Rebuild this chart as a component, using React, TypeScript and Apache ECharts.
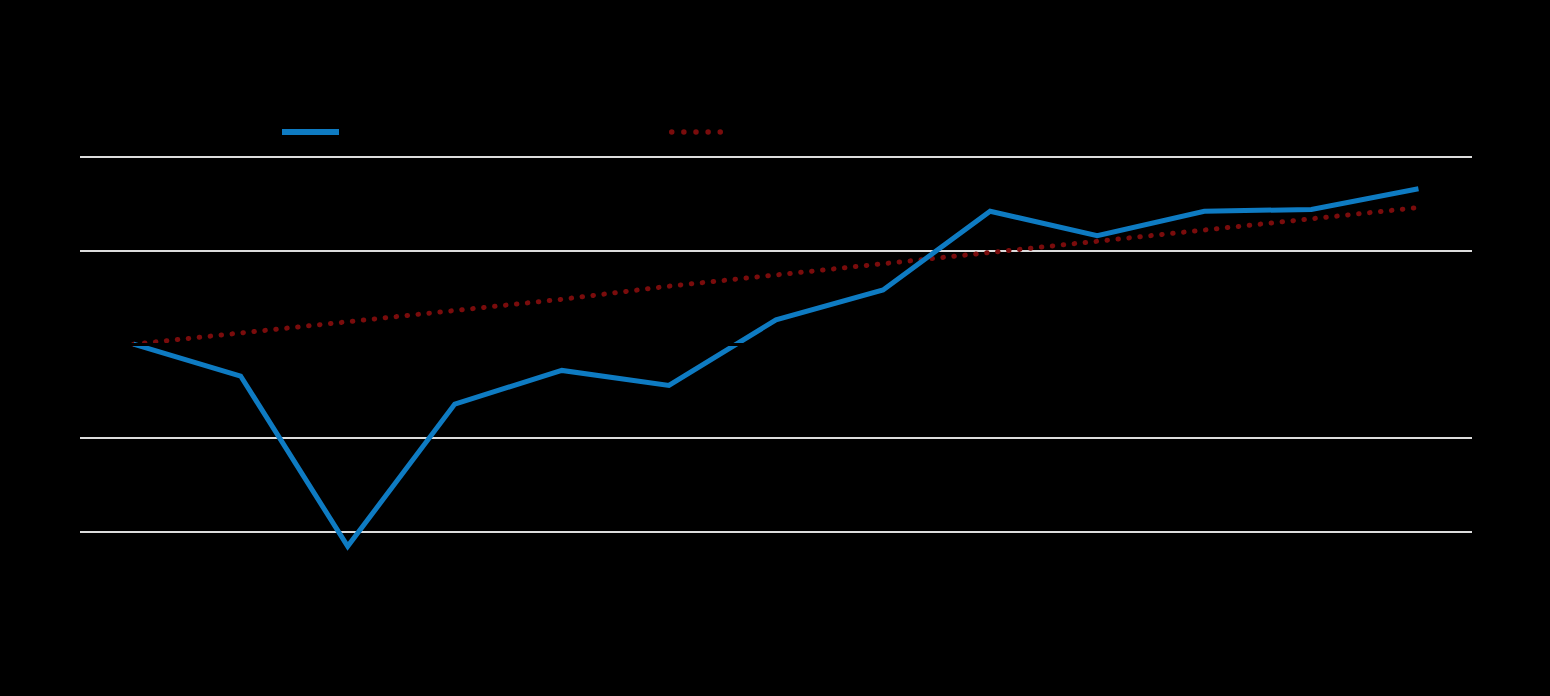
import React, { useEffect, useRef } from "react";
import * as echarts from "echarts";

const years = ["2007", "2008", "2009", "2010", "2011", "2012", "2013", "2014", "2015", "2016", "2017", "2018", "2019"];
const actualValues = [0, -1.7, -10.8, -3.2, -1.4, -2.2, 1.3, 2.9, 7.1, 5.8, 7.1, 7.2, 8.3];
const trendValues = [0, 0.6, 1.2, 1.8, 2.4, 3.1, 3.7, 4.3, 4.9, 5.5, 6.1, 6.7, 7.3];
const seriesNames = ["Actual change since 2007", "Pre-crisis trend"];
const yMin = -15;
const yMax = 10;
const yInterval = 5;

const dotsIcon =
  "path://M0,2.5a2.5,2.5 0 1,0 5,0a2.5,2.5 0 1,0 -5,0Z" +
  "M11,2.5a2.5,2.5 0 1,0 5,0a2.5,2.5 0 1,0 -5,0Z" +
  "M22,2.5a2.5,2.5 0 1,0 5,0a2.5,2.5 0 1,0 -5,0Z" +
  "M33,2.5a2.5,2.5 0 1,0 5,0a2.5,2.5 0 1,0 -5,0Z" +
  "M44,2.5a2.5,2.5 0 1,0 5,0a2.5,2.5 0 1,0 -5,0Z";

export default function App() {
  const ref = useRef<HTMLDivElement>(null);
  useEffect(() => {
    document.body.style.margin = "0";
    const chart = echarts.init(ref.current!, null, { renderer: "svg" });
    chart.setOption({
      animation: false,
      backgroundColor: "#000000",
      title: {
        text: "Change since 2007 compared with pre-crisis trend",
        left: "center",
        top: 20,
        textStyle: { color: "#000000", fontSize: 20, fontFamily: "Liberation Sans" },
      },
      legend: [
        {
          data: [{ name: seriesNames[0], icon: "rect" }],
          left: 277,
          top: 119,
          itemWidth: 57,
          itemHeight: 6,
          textStyle: { color: "#000000", fontSize: 16, fontFamily: "Liberation Sans" },
        },
        {
          data: [{ name: seriesNames[1], icon: dotsIcon }],
          left: 664,
          top: 119,
          itemWidth: 54,
          itemHeight: 6,
          textStyle: { color: "#000000", fontSize: 16, fontFamily: "Liberation Sans" },
        },
      ],
      grid: { left: 80, right: 78, top: 157, bottom: 71, containLabel: false },
      xAxis: {
        type: "category",
        data: years,
        boundaryGap: true,
        z: 10,
        axisLine: { show: true, onZero: true, lineStyle: { color: "#000000", width: 3 } },
        axisTick: { show: false },
        axisLabel: { color: "#000000", fontSize: 16, fontFamily: "Liberation Sans" },
        splitLine: { show: false },
      },
      yAxis: {
        type: "value",
        min: yMin,
        max: yMax,
        interval: yInterval,
        axisLine: { show: false },
        axisTick: { show: false },
        axisLabel: {
          color: "#000000",
          fontSize: 16,
          fontFamily: "Liberation Sans",
          formatter: (v: number) => (v === yMin ? "" : v + "%"),
        },
        splitLine: {
          show: true,
          lineStyle: {
            color: ["rgba(0,0,0,0)", "#dcdcdc", "#dcdcdc", "#000000", "#dcdcdc", "#dcdcdc"],
            width: 2,
          },
        },
      },
      series: [
        {
          name: seriesNames[0],
          type: "line",
          data: actualValues,
          symbol: "none",
          z: 3,
          lineStyle: { color: "#0e7bc2", width: 5, cap: "butt", join: "miter" },
          itemStyle: { color: "#0e7bc2" },
        },
        {
          name: seriesNames[1],
          type: "line",
          data: trendValues,
          symbol: "none",
          z: 2,
          lineStyle: { color: "#7a0c0c", width: 5, type: [0.5, 10.5], cap: "round" },
          itemStyle: { color: "#7a0c0c" },
        },
      ],
    });
    return () => chart.dispose();
  }, []);
  return <div ref={ref} style={{ width: 1550, height: 696 }} />;
}
